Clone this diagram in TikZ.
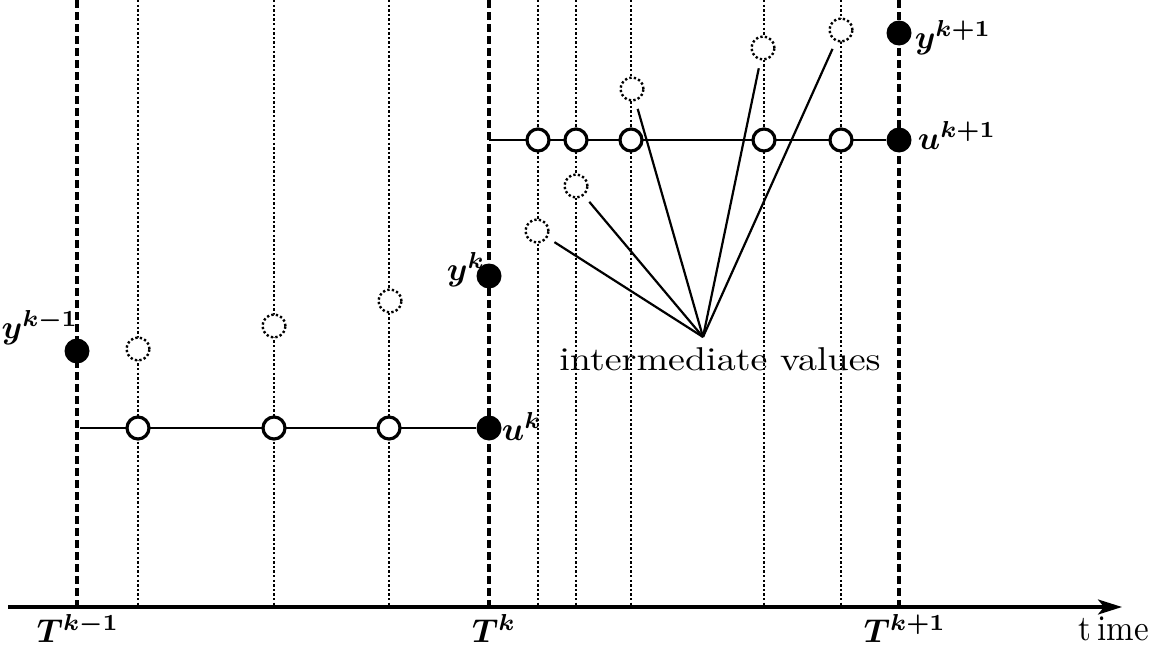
\documentclass[tikz,border=0pt]{standalone}
\usetikzlibrary{arrows.meta}
\begin{document}
\begin{tikzpicture}[x=1pt,y=-1pt,
  axisline/.style={line width=3.2pt,-{Stealth[length=24pt,width=15pt,inset=6pt]}},
  dashline/.style={line width=3.4pt,dash pattern=on 8pt off 4pt},
  dotline/.style={line width=2.5pt,dash pattern=on 2.3pt off 2.3pt},
  ctrl/.style={line width=2.4pt},
  fan/.style={line width=2.2pt,shorten >=8pt},
  opendot/.style={circle,draw,line width=3.2pt,fill=white,minimum size=22pt,inner sep=0pt},
  fulldot/.style={circle,fill=black,minimum size=25pt,inner sep=0pt},
  ghostdot/.style={circle,draw,line width=2.4pt,dash pattern=on 2.3pt off 2.3pt,fill=white,minimum size=23pt,inner sep=0pt},
  lbl/.style={inner sep=0pt},
  mlbl/.style={inner sep=0pt,scale=3.3,font=\boldmath}
]
\useasboundingbox (0,0) rectangle (1165,653);
% axis
\coordinate (a0) at (8,607);
\coordinate (a1) at (1122,607);
\draw[axisline] (a0) -- (a1);
% main time marks
\foreach \n/\x in {tkm/77,tk/489,tkp/899}{
  \coordinate (\n top) at (\x,0);
  \coordinate (\n bot) at (\x,607);
  \draw[dashline] (\n top) -- (\n bot);
}
% intermediate time marks
\foreach \n/\x in {s1/138,s2/274,s3/389,r1/538,r2/576,r3/631,r4/764,r5/841}{
  \coordinate (\n top) at (\x,0);
  \coordinate (\n bot) at (\x,605);
  \draw[dotline] (\n top) -- (\n bot);
}
% lower control level
\coordinate (lstart) at (80,428);
\node[fulldot] (uk) at (489,428) {};
\draw[ctrl] (lstart) -- (uk);
\node[opendot] (u1) at (138,428) {};
\node[opendot] (u2) at (274,428) {};
\node[opendot] (u3) at (389,428) {};
% upper control level
\coordinate (ustart) at (489,140);
\node[fulldot] (ukp) at (899,140) {};
\draw[ctrl] (ustart) -- (ukp);
\node[opendot] (v1) at (538,140) {};
\node[opendot] (v2) at (576,140) {};
\node[opendot] (v3) at (631,140) {};
\node[opendot] (v4) at (764,140) {};
\node[opendot] (v5) at (841,140) {};
% outputs
\node[fulldot] (ykm) at (77,351) {};
\node[fulldot] (yk) at (489,276) {};
\node[fulldot] (ykp) at (899,33) {};
% intermediate outputs
\node[ghostdot] (g1) at (138,349) {};
\node[ghostdot] (g2) at (274,326) {};
\node[ghostdot] (g3) at (390,301) {};
\node[ghostdot] (h1) at (537,231) {};
\node[ghostdot] (h2) at (576,186) {};
\node[ghostdot] (h3) at (632,89) {};
\node[ghostdot] (h4) at (763,48) {};
\node[ghostdot] (h5) at (841,30) {};
% fan
\coordinate (hub) at (703,337);
\foreach \tg in {h1,h2,h3,h4,h5}{ \draw[fan] (hub) -- (\tg); }
\node[lbl,anchor=base,xscale=3.8,yscale=3.3] (iv) at (720,370) {intermediate values};
% labels
\node[mlbl] (lykm) at (40,328) {$y^{k-1}$};
\node[mlbl] (lyk) at (466,270) {$y^{k}$};
\node[mlbl] (luk) at (522,426) {$u^{k}$};
\node[mlbl] (lykp) at (953,38) {$y^{k+1}$};
\node[mlbl] (lukp) at (957,135) {$u^{k+1}$};
\node[mlbl] (ltkm) at (78,628) {$T^{k-1}$};
\node[mlbl] (ltk) at (494,628) {$T^{k}$};
\node[mlbl] (ltkp) at (905,628) {$T^{k+1}$};
\node[lbl,anchor=base west,xscale=3.3,yscale=3.6] (ltime) at (1078,640) {t\kern1.8pt ime};
\end{tikzpicture}
\end{document}
